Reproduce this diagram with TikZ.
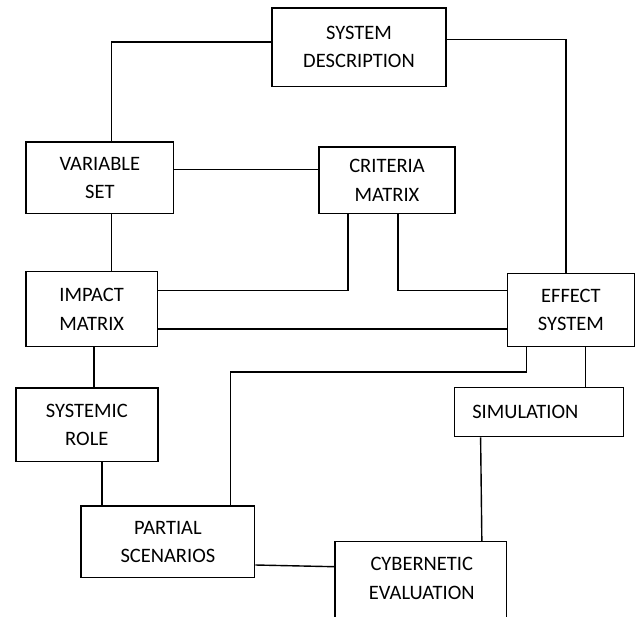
\documentclass[tikz,border=0pt]{standalone}
\usepackage{fontspec}
\setmainfont{Carlito}

\begin{document}
\begin{tikzpicture}[x=1pt,y=-1pt,
    box/.style={rectangle,draw,line width=1.4pt,fill=white,align=center,inner sep=0pt,
      font=\fontsize{20.5}{28.4}\selectfont},
    lbl/.style={align=center,inner sep=0pt,font=\fontsize{20.5}{28.4}\selectfont},
    link/.style={line width=1.4pt}]
    \useasboundingbox (0,0) rectangle (636,617);
    \clip (0,0) rectangle (636,617);

    % nodes
    \node at (359,47.2) [box,minimum width=174pt,minimum height=78.3pt] (sd) {SYSTEM\\DESCRIPTION};
    \node at (99.8,177.9) [box,minimum width=147.6pt,minimum height=71.7pt] (vs) {VARIABLE\\SET};
    \node at (387,180.4) [box,minimum width=136pt,minimum height=66.7pt] (cm) {CRITERIA\\MATRIX};
    \node at (91.7,309.2) [box,minimum width=131.4pt,minimum height=75pt] (im) {IMPACT\\MATRIX};
    \node at (570.9,310) [box,minimum width=127.2pt,minimum height=73.4pt] (ef) {EFFECT\\SYSTEM};
    \node at (86.8,424.7) [box,minimum width=142pt,minimum height=73.3pt] (sr) {SYSTEMIC\\ROLE};
    \node at (539,412.2) [box,minimum width=168.6pt,minimum height=49pt,inner xsep=17.6pt,
      text width=133.4pt,align=left] (sim) {SIMULATION};
    \node at (167.9,541.9) [box,minimum width=173.7pt,minimum height=71.7pt] (ps) {PARTIAL\\SCENARIOS};
    \node at (420.85,589.35) [box,minimum width=171.7pt,minimum height=95.3pt] (cyb) {};
    \node at (421.8,578.4) [lbl] (cybtxt) {CYBERNETIC\\EVALUATION};

    % helper points
    \coordinate (sdw) at ([yshift=5.2pt]sd.west);
    \coordinate (vse) at ([yshift=8.2pt]vs.east);
    \coordinate (vss) at ([xshift=11.7pt]vs.south);
    \coordinate (ime) at ([yshift=-19.8pt]im.east);
    \coordinate (ims) at ([xshift=2.3pt]im.south);
    \coordinate (srs) at ([xshift=15pt]sr.south);
    \coordinate (efs) at ([xshift=-44.4pt]ef.south);
    \coordinate (bend) at ([yshift=-24.6pt]efs);
    \coordinate (psn) at ([xshift=62.5pt]ps.north);
    \coordinate (efr) at ([xshift=14.4pt]ef.south);

    % paths
    \draw[link] (sdw) -| ([xshift=11.7pt]vs.north);
    \draw[link] ([yshift=7.5pt]sd.east) -| ([xshift=-4.9pt]ef.north);
    \draw[link] (vse) -- (vse -| cm.west);
    \draw[link] (vss) -- (vss |- im.north);
    \draw[link] ([xshift=-39pt]cm.south) |- ([yshift=18.5pt]im.east);
    \draw[link] ([xshift=11pt]cm.south) |- ([yshift=19.3pt]ef.west);
    \draw[link] (ime) -- (ime -| ef.west);
    \draw[link] (ims) -- (ims |- sr.north);
    \draw[link] (srs) -- (srs |- ps.north);
    \draw[link] (efs) -- (bend) -| (psn);
    \draw[link] (efr) -- (efr |- sim.north);
    \draw[link] ([xshift=-58.4pt]sim.south) -- ([xshift=61pt]cyb.north);
    \draw[link] ([yshift=-23.1pt]ps.east) -- ([yshift=22.65pt]cyb.west);
\end{tikzpicture}
\end{document}
